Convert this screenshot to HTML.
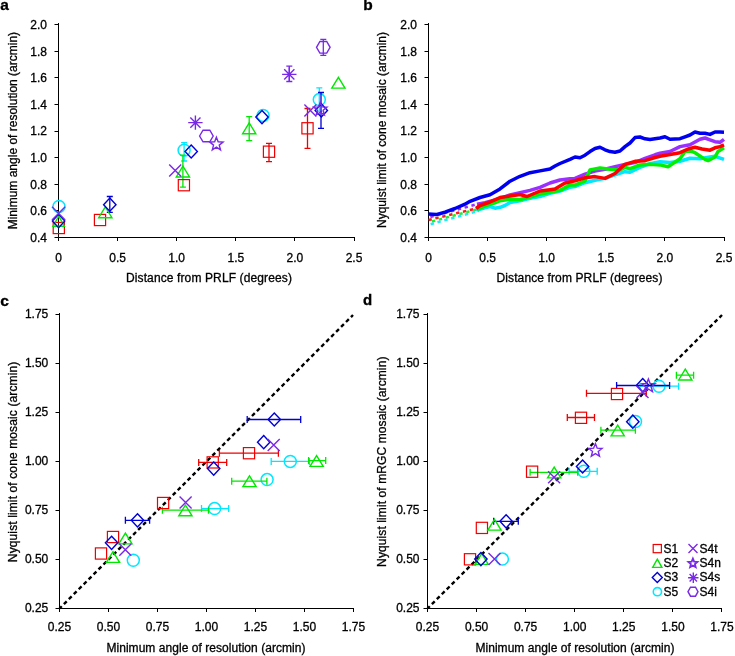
<!DOCTYPE html><html><head><meta charset="utf-8"><style>html,body{margin:0;padding:0;background:#fff;overflow:hidden}svg{display:block;will-change:transform;font-family:"Liberation Sans",sans-serif}</style></head><body><svg width="735" height="656" viewBox="0 0 735 656"  font-size="12">
<rect width="735" height="656" fill="#fff"/>
<g fill="#000" stroke="#000" stroke-width="0.3">
<g font-weight="bold" font-size="16">
<text x="0.2" y="10" font-size="15.5">a</text><text x="363.2" y="9.8" font-size="15.5">b</text><text x="0.3" y="305.8" font-size="15.5">c</text><text x="363" y="304.8" font-size="15">d</text>
</g>
<path d="M58.5 23.0V237.5H355.0" fill="none" stroke="#000" stroke-width="1"/>
<path d="M54.5 237.5H58.5M54.5 210.5H58.5M54.5 184.5H58.5M54.5 157.5H58.5M54.5 131.5H58.5M54.5 104.5H58.5M54.5 77.5H58.5M54.5 51.5H58.5M54.5 24.5H58.5M58.5 237.5V241.0M117.5 237.5V241.0M176.5 237.5V241.0M235.5 237.5V241.0M294.5 237.5V241.0M354.5 237.5V241.0" stroke="#000" stroke-width="1"/>
<text x="47.0" y="241.7" text-anchor="end">0.4</text>
<text x="47.0" y="215.1" text-anchor="end">0.6</text>
<text x="47.0" y="188.5" text-anchor="end">0.8</text>
<text x="47.0" y="161.9" text-anchor="end">1.0</text>
<text x="47.0" y="135.3" text-anchor="end">1.2</text>
<text x="47.0" y="108.7" text-anchor="end">1.4</text>
<text x="47.0" y="82.1" text-anchor="end">1.6</text>
<text x="47.0" y="55.5" text-anchor="end">1.8</text>
<text x="47.0" y="28.9" text-anchor="end">2.0</text>
<text x="58.5" y="262.1" text-anchor="middle">0</text>
<text x="117.6" y="262.1" text-anchor="middle">0.5</text>
<text x="176.7" y="262.1" text-anchor="middle">1.0</text>
<text x="235.8" y="262.1" text-anchor="middle">1.5</text>
<text x="294.9" y="262.1" text-anchor="middle">2.0</text>
<text x="354.0" y="262.1" text-anchor="middle">2.5</text>
<path d="M428.5 23.0V237.5H725.0" fill="none" stroke="#000" stroke-width="1"/>
<path d="M424.5 237.5H428.5M424.5 210.5H428.5M424.5 184.5H428.5M424.5 157.5H428.5M424.5 131.5H428.5M424.5 104.5H428.5M424.5 77.5H428.5M424.5 51.5H428.5M424.5 24.5H428.5M428.5 237.5V241.0M487.5 237.5V241.0M546.5 237.5V241.0M605.5 237.5V241.0M664.5 237.5V241.0M724.5 237.5V241.0" stroke="#000" stroke-width="1"/>
<text x="417.0" y="241.7" text-anchor="end">0.4</text>
<text x="417.0" y="215.1" text-anchor="end">0.6</text>
<text x="417.0" y="188.5" text-anchor="end">0.8</text>
<text x="417.0" y="161.9" text-anchor="end">1.0</text>
<text x="417.0" y="135.3" text-anchor="end">1.2</text>
<text x="417.0" y="108.7" text-anchor="end">1.4</text>
<text x="417.0" y="82.1" text-anchor="end">1.6</text>
<text x="417.0" y="55.5" text-anchor="end">1.8</text>
<text x="417.0" y="28.9" text-anchor="end">2.0</text>
<text x="428.5" y="262.1" text-anchor="middle">0</text>
<text x="487.6" y="262.1" text-anchor="middle">0.5</text>
<text x="546.7" y="262.1" text-anchor="middle">1.0</text>
<text x="605.8" y="262.1" text-anchor="middle">1.5</text>
<text x="664.9" y="262.1" text-anchor="middle">2.0</text>
<text x="724.0" y="262.1" text-anchor="middle">2.5</text>
<path d="M59.5 313.0V608.5H354.0" fill="none" stroke="#000" stroke-width="1"/>
<path d="M55.5 608.5H59.5M55.5 559.5H59.5M55.5 510.5H59.5M55.5 461.5H59.5M55.5 412.5H59.5M55.5 363.5H59.5M55.5 314.5H59.5M59.5 608.5V612.0M108.5 608.5V612.0M157.5 608.5V612.0M206.5 608.5V612.0M255.5 608.5V612.0M304.5 608.5V612.0M353.5 608.5V612.0" stroke="#000" stroke-width="1"/>
<text x="48.3" y="611.9" text-anchor="end">0.25</text>
<text x="48.3" y="562.9" text-anchor="end">0.50</text>
<text x="48.3" y="513.9" text-anchor="end">0.75</text>
<text x="48.3" y="464.9" text-anchor="end">1.00</text>
<text x="48.3" y="415.9" text-anchor="end">1.25</text>
<text x="48.3" y="366.9" text-anchor="end">1.50</text>
<text x="48.3" y="317.9" text-anchor="end">1.75</text>
<text x="59.5" y="631.4" text-anchor="middle">0.25</text>
<text x="108.5" y="631.4" text-anchor="middle">0.50</text>
<text x="157.5" y="631.4" text-anchor="middle">0.75</text>
<text x="206.5" y="631.4" text-anchor="middle">1.00</text>
<text x="255.5" y="631.4" text-anchor="middle">1.25</text>
<text x="304.5" y="631.4" text-anchor="middle">1.50</text>
<text x="353.5" y="631.4" text-anchor="middle">1.75</text>
<path d="M427.5 313.0V608.5H722.0" fill="none" stroke="#000" stroke-width="1"/>
<path d="M423.5 608.5H427.5M423.5 559.5H427.5M423.5 510.5H427.5M423.5 461.5H427.5M423.5 412.5H427.5M423.5 363.5H427.5M423.5 314.5H427.5M427.5 608.5V612.0M476.5 608.5V612.0M525.5 608.5V612.0M574.5 608.5V612.0M623.5 608.5V612.0M672.5 608.5V612.0M721.5 608.5V612.0" stroke="#000" stroke-width="1"/>
<text x="419.5" y="611.9" text-anchor="end">0.25</text>
<text x="419.5" y="562.9" text-anchor="end">0.50</text>
<text x="419.5" y="513.9" text-anchor="end">0.75</text>
<text x="419.5" y="464.9" text-anchor="end">1.00</text>
<text x="419.5" y="415.9" text-anchor="end">1.25</text>
<text x="419.5" y="366.9" text-anchor="end">1.50</text>
<text x="419.5" y="317.9" text-anchor="end">1.75</text>
<text x="427.5" y="631.4" text-anchor="middle">0.25</text>
<text x="476.6" y="631.4" text-anchor="middle">0.50</text>
<text x="525.6" y="631.4" text-anchor="middle">0.75</text>
<text x="574.7" y="631.4" text-anchor="middle">1.00</text>
<text x="623.8" y="631.4" text-anchor="middle">1.25</text>
<text x="672.9" y="631.4" text-anchor="middle">1.50</text>
<text x="722.0" y="631.4" text-anchor="middle">1.75</text>
<text x="209" y="282" text-anchor="middle" letter-spacing="0.12">Distance from PRLF (degrees)</text>
<text x="579.5" y="282" text-anchor="middle" letter-spacing="0.12">Distance from PRLF (degrees)</text>
<text x="206" y="652.2" text-anchor="middle" letter-spacing="0.05">Minimum angle of resolution (arcmin)</text>
<text x="575" y="652.2" text-anchor="middle" letter-spacing="0.05">Minimum angle of resolution (arcmin)</text>
<text transform="translate(17.2 130.6) rotate(-90)" text-anchor="middle">Minimum angle of resolution (arcmin)</text>
<text transform="translate(386.3 130) rotate(-90)" text-anchor="middle">Nyquist limit of cone mosaic (arcmin)</text>
<text transform="translate(17.2 461.9) rotate(-90)" text-anchor="middle" letter-spacing="0.12">Nyquist limit of cone mosaic (arcmin)</text>
<text transform="translate(386.3 461.7) rotate(-90)" text-anchor="middle" letter-spacing="0.1">Nyquist limit of mRGC mosaic (arcmin)</text>
</g>
<circle cx="59.00" cy="206.40" r="6.0" fill="none" stroke="#00e8ff" stroke-width="1.5"/>
<circle cx="184.10" cy="150.30" r="6.0" fill="none" stroke="#00e8ff" stroke-width="1.5"/>
<circle cx="263.10" cy="115.40" r="6.0" fill="none" stroke="#00e8ff" stroke-width="1.5"/>
<circle cx="319.30" cy="99.60" r="6.0" fill="none" stroke="#00e8ff" stroke-width="1.5"/>
<path d="M184.10 142.70V161.00M181.10 142.70H187.10M181.10 161.00H187.10" stroke="#00e8ff" stroke-width="1.3"/>
<path d="M319.30 87.90V111.30M316.30 87.90H322.30M316.30 111.30H322.30" stroke="#00e8ff" stroke-width="1.3"/>
<path d="M269.00 143.40V161.70M266.00 143.40H272.00M266.00 161.70H272.00" stroke="#f00000" stroke-width="1.3"/>
<path d="M307.50 108.50V148.40M304.50 108.50H310.50M304.50 148.40H310.50" stroke="#f00000" stroke-width="1.3"/>
<path d="M182.90 155.20V187.20M179.90 155.20H185.90M179.90 187.20H185.90" stroke="#00e800" stroke-width="1.3"/>
<path d="M249.20 116.60V140.60M246.20 116.60H252.20M246.20 140.60H252.20" stroke="#00e800" stroke-width="1.3"/>
<path d="M109.80 196.50V212.40M106.80 196.50H112.80M106.80 212.40H112.80" stroke="#0000d8" stroke-width="1.3"/>
<path d="M321.00 92.50V128.30M318.00 92.50H324.00M318.00 128.30H324.00" stroke="#0000d8" stroke-width="1.3"/>
<path d="M289.30 66.20V81.50M286.30 66.20H292.30M286.30 81.50H292.30" stroke="#7a28e8" stroke-width="1.3"/>
<path d="M323.30 39.40V55.40M320.30 39.40H326.30M320.30 55.40H326.30" stroke="#7a28e8" stroke-width="1.3"/>
<rect x="53.20" y="222.40" width="11.20" height="11.20" fill="none" stroke="#f00000" stroke-width="1.2"/>
<rect x="94.40" y="214.40" width="11.20" height="11.20" fill="none" stroke="#f00000" stroke-width="1.2"/>
<rect x="178.30" y="179.60" width="11.20" height="11.20" fill="none" stroke="#f00000" stroke-width="1.2"/>
<rect x="263.40" y="146.10" width="11.20" height="11.20" fill="none" stroke="#f00000" stroke-width="1.2"/>
<rect x="301.90" y="122.70" width="11.20" height="11.20" fill="none" stroke="#f00000" stroke-width="1.2"/>
<path d="M58.70 216.20L64.45 226.20H52.95Z" fill="none" stroke="#00e800" stroke-width="1.4" stroke-linejoin="miter"/>
<path d="M105.30 206.90L111.90 217.70H98.70Z" fill="none" stroke="#00e800" stroke-width="1.4" stroke-linejoin="miter"/>
<path d="M182.90 166.20L189.50 177.00H176.30Z" fill="none" stroke="#00e800" stroke-width="1.4" stroke-linejoin="miter"/>
<path d="M249.20 122.90L255.80 133.70H242.60Z" fill="none" stroke="#00e800" stroke-width="1.4" stroke-linejoin="miter"/>
<path d="M338.40 77.30L345.00 88.10H331.80Z" fill="none" stroke="#00e800" stroke-width="1.4" stroke-linejoin="miter"/>
<path d="M58.60 214.30L64.80 221.00L58.60 227.70L52.40 221.00Z" fill="none" stroke="#0000d8" stroke-width="1.4"/>
<path d="M109.80 198.10L116.00 204.70L109.80 211.30L103.60 204.70Z" fill="none" stroke="#0000d8" stroke-width="1.4"/>
<path d="M191.20 144.90L197.40 151.50L191.20 158.10L185.00 151.50Z" fill="none" stroke="#0000d8" stroke-width="1.4"/>
<path d="M262.00 110.50L268.20 117.10L262.00 123.70L255.80 117.10Z" fill="none" stroke="#0000d8" stroke-width="1.4"/>
<path d="M321.30 103.80L327.50 110.40L321.30 117.00L315.10 110.40Z" fill="none" stroke="#0000d8" stroke-width="1.4"/>
<path d="M52.00 206.70L65.20 219.90M65.20 206.70L52.00 219.90" stroke="#7a28e8" stroke-width="1.4"/>
<path d="M169.20 164.40L181.20 176.40M181.20 164.40L169.20 176.40" stroke="#7a28e8" stroke-width="1.4"/>
<path d="M304.40 104.40L316.40 116.40M316.40 104.40L304.40 116.40" stroke="#7a28e8" stroke-width="1.4"/>
<path d="M216.40 137.20L218.16 141.77L223.06 142.04L219.25 145.13L220.51 149.86L216.40 147.20L212.29 149.86L213.55 145.13L209.74 142.04L214.64 141.77Z" fill="none" stroke="#7a28e8" stroke-width="1.4"/>
<path d="M320.30 102.30L322.06 106.87L326.96 107.14L323.15 110.23L324.41 114.96L320.30 112.30L316.19 114.96L317.45 110.23L313.64 107.14L318.54 106.87Z" fill="none" stroke="#7a28e8" stroke-width="1.4"/>
<path d="M188.20 122.60L202.60 122.60M190.31 117.51L200.49 127.69M195.40 115.40L195.40 129.80M200.49 117.51L190.31 127.69" stroke="#7a28e8" stroke-width="1.4"/>
<path d="M282.10 74.40L296.50 74.40M284.21 69.31L294.39 79.49M289.30 67.20L289.30 81.60M294.39 69.31L284.21 79.49" stroke="#7a28e8" stroke-width="1.4"/>
<path d="M199.60 136.00L203.00 130.20H209.80L213.20 136.00L209.80 141.80H203.00Z" fill="none" stroke="#7a28e8" stroke-width="1.4"/>
<path d="M316.50 47.30L319.90 41.50H326.70L330.10 47.30L326.70 53.10H319.90Z" fill="none" stroke="#7a28e8" stroke-width="1.4"/>
<path d="M428.6 220.0L476 208.5" stroke="#ff1a1a" stroke-width="2.5" stroke-dasharray="3.4 3.7" stroke-dashoffset="0.15" fill="none"/>
<path d="M428.6 222.4L477 209.3" stroke="#22ee22" stroke-width="2.5" stroke-dasharray="3.4 3.7" stroke-dashoffset="3.65" fill="none"/>
<path d="M428.6 224.8L477 211.3" stroke="#22e8ff" stroke-width="2.5" stroke-dasharray="3.4 3.7" stroke-dashoffset="5.0" fill="none"/>
<path d="M428.6 217.4L477 204.2" stroke="#9a30ff" stroke-width="2.5" stroke-dasharray="3.4 3.7" stroke-dashoffset="5.3" fill="none"/>
<path d="M477.0 204.2L485.0 202.6L495.0 200.0L503.0 197.6L510.0 195.0L520.0 192.8L530.0 190.4L540.0 187.3L550.0 183.0L560.0 180.0L570.0 178.8L575.0 178.4L585.0 174.1L595.0 171.1L605.0 169.3L615.0 166.8L625.0 164.4L635.0 162.6L645.0 158.3L655.0 154.8L660.0 153.3L670.0 151.5L680.0 146.6L690.0 144.8L700.0 139.3L705.0 138.0L710.0 139.9L715.0 141.7L720.0 142.3L724.0 139.3" stroke="#9a30ff" stroke-width="3.5" fill="none" stroke-linejoin="round" stroke-linecap="butt"/>
<path d="M477.0 211.3L478.0 209.7L485.0 207.8L490.0 206.6L495.0 208.2L500.0 207.3L505.0 205.5L510.0 202.6L520.0 200.7L530.0 198.3L540.0 196.5L550.0 193.4L560.0 191.0L570.0 187.3L575.0 186.5L585.0 182.7L595.0 180.2L605.0 178.4L615.0 174.8L625.0 171.7L630.0 172.3L640.0 167.4L650.0 163.7L660.0 161.8L670.0 162.4L680.0 161.2L690.0 158.2L700.0 158.8L710.0 157.0L715.0 156.3L724.0 159.4" stroke="#00e8ff" stroke-width="3.5" fill="none" stroke-linejoin="round" stroke-linecap="butt"/>
<path d="M477.0 209.3L478.0 208.9L485.0 205.9L495.0 202.8L500.0 200.7L510.0 199.2L520.0 199.5L530.0 197.0L540.0 194.0L550.0 192.2L560.0 190.4L570.0 184.9L575.0 185.1L585.0 180.9L590.0 169.9L600.0 168.0L610.0 169.3L620.0 169.9L625.0 167.4L630.0 168.7L640.0 165.0L650.0 164.3L660.0 164.9L668.0 166.7L680.0 158.8L685.0 151.5L690.0 150.9L695.0 152.7L705.0 159.4L708.0 160.6L715.0 157.0L718.0 151.5L724.0 147.8" stroke="#00f000" stroke-width="3.5" fill="none" stroke-linejoin="round" stroke-linecap="butt"/>
<path d="M476.0 208.5L480.0 205.5L490.0 202.0L500.0 197.6L510.0 195.9L520.0 194.6L527.0 196.5L540.0 191.0L550.0 189.8L555.0 189.1L565.0 183.0L575.0 180.8L585.0 177.8L595.0 176.6L605.0 178.4L615.0 173.5L620.0 168.7L625.0 164.4L635.0 161.3L645.0 160.7L655.0 157.5L660.0 156.3L670.0 154.5L680.0 152.7L688.0 149.0L695.0 147.2L702.0 149.0L710.0 150.2L715.0 147.8L720.0 146.6L724.0 144.8" stroke="#ff0000" stroke-width="3.5" fill="none" stroke-linejoin="round" stroke-linecap="butt"/>
<path d="M428.6 214.0L436.0 214.6L445.0 212.2L455.0 208.5L465.0 204.2L470.0 201.3L480.0 197.5L490.0 194.8L500.0 188.9L510.0 181.2L520.0 176.3L530.0 172.7L540.0 170.9L550.0 169.0L555.0 166.0L560.0 163.5L570.0 159.3L575.0 157.0L580.0 157.7L585.0 155.2L590.0 151.6L595.0 148.5L600.0 147.3L605.0 149.8L610.0 151.6L615.0 152.2L620.0 151.0L625.0 146.7L630.0 143.0L635.0 137.6L640.0 137.0L645.0 138.8L650.0 139.6L660.0 138.0L665.0 136.8L670.0 139.3L680.0 138.7L685.0 136.8L690.0 135.0L695.0 132.0L700.0 133.2L705.0 133.2L710.0 134.4L715.0 132.0L720.0 132.0L724.0 132.2" stroke="#0000f0" stroke-width="3.5" fill="none" stroke-linejoin="round" stroke-linecap="butt"/>
<path d="M59.5 608.5L353 315" stroke="#000" stroke-width="2.4" stroke-dasharray="4 3" stroke-dashoffset="0.8" fill="none"/>
<circle cx="133.30" cy="560.30" r="6.0" fill="none" stroke="#00e8ff" stroke-width="1.5"/>
<circle cx="214.60" cy="508.60" r="6.0" fill="none" stroke="#00e8ff" stroke-width="1.5"/>
<circle cx="267.10" cy="479.60" r="6.0" fill="none" stroke="#00e8ff" stroke-width="1.5"/>
<circle cx="290.30" cy="461.40" r="6.0" fill="none" stroke="#00e8ff" stroke-width="1.5"/>
<path d="M201.50 508.60H228.70M201.50 505.10V512.10M228.70 505.10V512.10" stroke="#00e8ff" stroke-width="1.3"/>
<path d="M271.20 461.40H309.40M271.20 457.90V464.90M309.40 457.90V464.90" stroke="#00e8ff" stroke-width="1.3"/>
<path d="M198.70 462.40H226.70M198.70 458.90V465.90M226.70 458.90V465.90" stroke="#f00000" stroke-width="1.3"/>
<path d="M219.40 453.20H278.40M219.40 449.70V456.70M278.40 449.70V456.70" stroke="#f00000" stroke-width="1.3"/>
<path d="M162.40 510.20H208.50M162.40 506.70V513.70M208.50 506.70V513.70" stroke="#00e800" stroke-width="1.3"/>
<path d="M231.70 481.20H266.90M231.70 477.70V484.70M266.90 477.70V484.70" stroke="#00e800" stroke-width="1.3"/>
<path d="M308.60 460.60H325.70M308.60 457.10V464.10M325.70 457.10V464.10" stroke="#00e800" stroke-width="1.3"/>
<path d="M125.40 520.30H149.60M125.40 516.80V523.80M149.60 516.80V523.80" stroke="#0000d8" stroke-width="1.3"/>
<path d="M247.20 419.50H300.70M247.20 416.00V423.00M300.70 416.00V423.00" stroke="#0000d8" stroke-width="1.3"/>
<rect x="95.40" y="547.90" width="11.20" height="11.20" fill="none" stroke="#f00000" stroke-width="1.2"/>
<rect x="107.40" y="531.40" width="11.20" height="11.20" fill="none" stroke="#f00000" stroke-width="1.2"/>
<rect x="157.50" y="497.40" width="11.20" height="11.20" fill="none" stroke="#f00000" stroke-width="1.2"/>
<rect x="207.10" y="456.80" width="11.20" height="11.20" fill="none" stroke="#f00000" stroke-width="1.2"/>
<rect x="243.40" y="447.60" width="11.20" height="11.20" fill="none" stroke="#f00000" stroke-width="1.2"/>
<path d="M113.00 551.60L119.60 562.40H106.40Z" fill="none" stroke="#00e800" stroke-width="1.4" stroke-linejoin="miter"/>
<path d="M125.40 533.10L132.00 543.90H118.80Z" fill="none" stroke="#00e800" stroke-width="1.4" stroke-linejoin="miter"/>
<path d="M185.40 505.00L192.00 515.80H178.80Z" fill="none" stroke="#00e800" stroke-width="1.4" stroke-linejoin="miter"/>
<path d="M249.50 475.80L256.10 486.60H242.90Z" fill="none" stroke="#00e800" stroke-width="1.4" stroke-linejoin="miter"/>
<path d="M316.60 455.60L323.20 466.40H310.00Z" fill="none" stroke="#00e800" stroke-width="1.4" stroke-linejoin="miter"/>
<path d="M111.60 536.20L117.80 542.80L111.60 549.40L105.40 542.80Z" fill="none" stroke="#0000d8" stroke-width="1.4"/>
<path d="M137.50 513.70L143.70 520.30L137.50 526.90L131.30 520.30Z" fill="none" stroke="#0000d8" stroke-width="1.4"/>
<path d="M213.70 462.00L219.90 468.60L213.70 475.20L207.50 468.60Z" fill="none" stroke="#0000d8" stroke-width="1.4"/>
<path d="M263.70 435.60L269.90 442.20L263.70 448.80L257.50 442.20Z" fill="none" stroke="#0000d8" stroke-width="1.4"/>
<path d="M274.30 412.90L280.50 419.50L274.30 426.10L268.10 419.50Z" fill="none" stroke="#0000d8" stroke-width="1.4"/>
<path d="M119.30 543.70L131.30 555.70M131.30 543.70L119.30 555.70" stroke="#7a28e8" stroke-width="1.4"/>
<path d="M179.60 496.40L191.60 508.40M191.60 496.40L179.60 508.40" stroke="#7a28e8" stroke-width="1.4"/>
<path d="M267.70 439.00L279.70 451.00M279.70 439.00L267.70 451.00" stroke="#7a28e8" stroke-width="1.4"/>
<path d="M427.5 608.5L722 315" stroke="#000" stroke-width="2.4" stroke-dasharray="4 3" stroke-dashoffset="0.8" fill="none"/>
<circle cx="502.40" cy="559.10" r="6.0" fill="none" stroke="#00e8ff" stroke-width="1.5"/>
<circle cx="583.80" cy="471.30" r="6.0" fill="none" stroke="#00e8ff" stroke-width="1.5"/>
<circle cx="635.50" cy="421.50" r="6.0" fill="none" stroke="#00e8ff" stroke-width="1.5"/>
<circle cx="659.00" cy="386.30" r="6.0" fill="none" stroke="#00e8ff" stroke-width="1.5"/>
<path d="M569.10 471.30H597.20M569.10 467.80V474.80M597.20 467.80V474.80" stroke="#00e8ff" stroke-width="1.3"/>
<path d="M640.00 386.20H678.60M640.00 382.70V389.70M678.60 382.70V389.70" stroke="#00e8ff" stroke-width="1.3"/>
<path d="M567.30 417.50H594.50M567.30 414.00V421.00M594.50 414.00V421.00" stroke="#f00000" stroke-width="1.3"/>
<path d="M586.50 393.30H646.30M586.50 389.80V396.80M646.30 389.80V396.80" stroke="#f00000" stroke-width="1.3"/>
<path d="M530.10 472.30H577.70M530.10 468.80V475.80M577.70 468.80V475.80" stroke="#00e800" stroke-width="1.3"/>
<path d="M600.90 430.20H635.40M600.90 426.70V433.70M635.40 426.70V433.70" stroke="#00e800" stroke-width="1.3"/>
<path d="M676.40 375.20H693.60M676.40 371.70V378.70M693.60 371.70V378.70" stroke="#00e800" stroke-width="1.3"/>
<path d="M493.70 521.30H518.30M493.70 517.80V524.80M518.30 517.80V524.80" stroke="#0000d8" stroke-width="1.3"/>
<path d="M616.60 385.50H669.60M616.60 382.00V389.00M669.60 382.00V389.00" stroke="#0000d8" stroke-width="1.3"/>
<rect x="464.40" y="553.70" width="11.20" height="11.20" fill="none" stroke="#f00000" stroke-width="1.2"/>
<rect x="476.30" y="522.30" width="11.20" height="11.20" fill="none" stroke="#f00000" stroke-width="1.2"/>
<rect x="526.50" y="466.10" width="11.20" height="11.20" fill="none" stroke="#f00000" stroke-width="1.2"/>
<rect x="575.40" y="412.20" width="11.20" height="11.20" fill="none" stroke="#f00000" stroke-width="1.2"/>
<rect x="611.40" y="388.40" width="11.20" height="11.20" fill="none" stroke="#f00000" stroke-width="1.2"/>
<path d="M481.70 553.60L488.30 564.40H475.10Z" fill="none" stroke="#00e800" stroke-width="1.4" stroke-linejoin="miter"/>
<path d="M494.50 519.30L501.10 530.10H487.90Z" fill="none" stroke="#00e800" stroke-width="1.4" stroke-linejoin="miter"/>
<path d="M554.20 467.10L560.80 477.90H547.60Z" fill="none" stroke="#00e800" stroke-width="1.4" stroke-linejoin="miter"/>
<path d="M617.70 425.10L624.30 435.90H611.10Z" fill="none" stroke="#00e800" stroke-width="1.4" stroke-linejoin="miter"/>
<path d="M685.30 369.20L691.90 380.00H678.70Z" fill="none" stroke="#00e800" stroke-width="1.4" stroke-linejoin="miter"/>
<path d="M480.90 552.50L487.10 559.10L480.90 565.70L474.70 559.10Z" fill="none" stroke="#0000d8" stroke-width="1.4"/>
<path d="M506.10 514.70L512.30 521.30L506.10 527.90L499.90 521.30Z" fill="none" stroke="#0000d8" stroke-width="1.4"/>
<path d="M582.60 459.90L588.80 466.50L582.60 473.10L576.40 466.50Z" fill="none" stroke="#0000d8" stroke-width="1.4"/>
<path d="M632.80 415.10L639.00 421.70L632.80 428.30L626.60 421.70Z" fill="none" stroke="#0000d8" stroke-width="1.4"/>
<path d="M642.70 378.60L648.90 385.20L642.70 391.80L636.50 385.20Z" fill="none" stroke="#0000d8" stroke-width="1.4"/>
<path d="M488.50 553.10L500.50 565.10M500.50 553.10L488.50 565.10" stroke="#7a28e8" stroke-width="1.4"/>
<path d="M548.10 471.20L560.10 483.20M560.10 471.20L548.10 483.20" stroke="#7a28e8" stroke-width="1.4"/>
<path d="M636.50 386.00L648.50 398.00M648.50 386.00L636.50 398.00" stroke="#7a28e8" stroke-width="1.4"/>
<path d="M595.40 443.60L597.16 448.17L602.06 448.44L598.25 451.53L599.51 456.26L595.40 453.60L591.29 456.26L592.55 451.53L588.74 448.44L593.64 448.17Z" fill="none" stroke="#7a28e8" stroke-width="1.4"/>
<path d="M648.40 379.00L650.16 383.57L655.06 383.84L651.25 386.93L652.51 391.66L648.40 389.00L644.29 391.66L645.55 386.93L641.74 383.84L646.64 383.57Z" fill="none" stroke="#7a28e8" stroke-width="1.4"/>
<rect x="653.20" y="544.50" width="8.20" height="8.20" fill="none" stroke="#f00000" stroke-width="1.2"/>
<path d="M657.30 559.20L661.90 567.40H652.70Z" fill="none" stroke="#00e800" stroke-width="1.4" stroke-linejoin="miter"/>
<path d="M657.30 572.40L662.30 577.40L657.30 582.40L652.30 577.40Z" fill="none" stroke="#0000d8" stroke-width="1.4"/>
<circle cx="657.40" cy="591.70" r="4.1" fill="none" stroke="#00e8ff" stroke-width="1.6"/>
<path d="M688.50 544.00L697.50 553.00M697.50 544.00L688.50 553.00" stroke="#7a28e8" stroke-width="1.4"/>
<path d="M692.90 558.70L694.13 561.70L697.37 561.95L694.90 564.05L695.66 567.20L692.90 565.50L690.14 567.20L690.90 564.05L688.43 561.95L691.67 561.70Z" fill="none" stroke="#7a28e8" stroke-width="1.8"/>
<path d="M688.10 577.70L698.50 577.70M689.62 574.02L696.98 581.38M693.30 572.50L693.30 582.90M696.98 574.02L689.62 581.38" stroke="#7a28e8" stroke-width="1.4"/>
<path d="M688.00 591.70L690.50 587.20H695.50L698.00 591.70L695.50 596.20H690.50Z" fill="none" stroke="#7a28e8" stroke-width="1.4"/>
<g font-size="12" stroke="#000" stroke-width="0.3">
<text x="663.5" y="552.8">S1</text>
<text x="663.5" y="567">S2</text>
<text x="663.5" y="581.3">S3</text>
<text x="663.5" y="595.6">S5</text>
<text x="699.5" y="552.8">S4t</text>
<text x="699.5" y="567">S4n</text>
<text x="699.5" y="581.3">S4s</text>
<text x="699.5" y="595.6">S4i</text>
</g>
</svg></body></html>
